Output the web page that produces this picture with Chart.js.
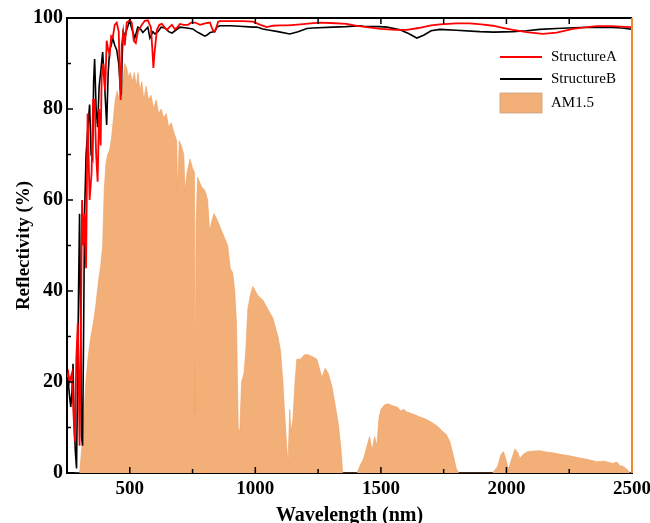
<!DOCTYPE html>
<html>
<head>
<meta charset="utf-8">
<script src="https://cdn.jsdelivr.net/npm/chart.js@4.4.1/dist/chart.umd.min.js"></script>
<style>
  html, body { margin: 0; padding: 0; background: #fff; }
  #wrap { width: 650px; height: 523px; position: relative; }
</style>
</head>
<body>
<div id="wrap"><canvas id="reflChart" width="650" height="523"></canvas></div>
<script>
// AM1.5 solar spectrum (scaled to the reflectivity axis)
const amNm = [280, 300, 305, 315, 325, 335, 345, 355, 365, 375, 385, 392, 398, 405, 412, 420, 428, 435, 442, 450,
  458, 465, 472, 480, 488, 495, 502, 510, 518, 526, 533, 540, 548, 556, 565, 575, 585, 595, 605, 615,
  625, 635, 645, 655, 665, 675, 687, 690, 697, 705, 715, 720, 728, 740, 750, 758, 760, 764, 770, 785,
  800, 810, 818, 825, 835, 845, 860, 875, 890, 900, 910, 918, 925, 932, 938, 945, 955, 962, 970, 980,
  990, 1000, 1010, 1030, 1050, 1070, 1090, 1100, 1110, 1118, 1125, 1130, 1137, 1142, 1150, 1158, 1165, 1180, 1195, 1210,
  1230, 1245, 1255, 1265, 1278, 1290, 1305, 1318, 1330, 1340, 1348, 1405, 1420, 1430, 1445, 1455, 1465, 1475, 1484, 1492,
  1500, 1515, 1530, 1545, 1565, 1580, 1590, 1604, 1625, 1656, 1680, 1700, 1725, 1748, 1760, 1775, 1790, 1800, 1810, 1945,
  1965, 1978, 1988, 1998, 2008, 2020, 2034, 2045, 2054, 2065, 2081, 2100, 2133, 2160, 2190, 2213, 2250, 2293, 2320, 2360,
  2390, 2424, 2440, 2452, 2464, 2480, 2492, 2500];
const amVal = [0, 0, 3, 10, 20, 26, 30, 33, 37, 42, 46, 50, 62, 68, 70, 71, 74, 78, 82, 84,
  82, 87, 86, 90, 89, 87, 88, 86, 88, 85, 88, 84, 86, 82, 85, 82, 83, 80, 82, 79,
  80, 78, 79, 76, 77, 75, 73, 62, 73, 72, 70, 62, 66, 69, 67, 66, 13, 55, 65, 63,
  62, 60, 53, 55, 57, 56, 54, 52, 50, 45, 44, 40, 33, 10, 9, 20, 22, 27, 36, 39,
  41, 40, 39, 38, 36, 34, 30, 27, 20, 12, 6, 2, 14, 9, 12, 20, 25, 25, 26, 26,
  25.5, 25, 23, 21, 23, 22, 19, 15, 11, 6, 0, 0, 2, 3, 6, 8, 5, 8, 6, 12,
  14, 15, 15.2, 14.8, 14.5, 13.6, 14, 13.4, 13, 12.3, 11.8, 11.2, 10.3, 9, 8.5, 6.8, 3.5, 1, 0, 0,
  1.5, 4, 4.7, 3, 0.8, 3, 5.3, 4.5, 3.2, 4, 4.6, 4.8, 4.9, 4.6, 4.4, 4.1, 3.8, 3.3, 3, 2.5,
  2.6, 2.1, 2.4, 1.6, 1.5, 0.8, 0, 0];

// StructureA reflectivity (%)
const aNm = [250, 255, 260, 265, 270, 275, 281, 287, 293, 297, 300, 305, 310, 315, 320, 326, 332, 340, 348, 354,
  360, 366, 372, 378, 384, 388, 395, 402, 408, 414, 420, 426, 432, 440, 448, 456, 461, 464, 468, 474,
  480, 488, 500, 508, 516, 524, 532, 548, 560, 572, 584, 590, 594, 598, 608, 618, 628, 638, 648, 658,
  668, 680, 690, 700, 715, 732, 745, 760, 780, 800, 819, 826, 831, 838, 845, 852, 859, 900, 950, 990,
  1020, 1046, 1070, 1098, 1130, 1180, 1220, 1257, 1300, 1363, 1400, 1443, 1500, 1560, 1604, 1650, 1700, 1735, 1800, 1854,
  1900, 1946, 1990, 2026, 2080, 2145, 2200, 2265, 2320, 2359, 2420, 2491, 2500];
const aVal = [21, 22, 20, 21, 22, 14, 7, 25, 33, 20, 6, 30, 60, 50, 57, 45, 79, 60, 66, 82,
  82, 70, 64, 80, 72, 87, 90, 84, 95, 93, 92, 96, 95.6, 98.5, 99, 97, 85, 82, 94, 97,
  94, 99, 99.5, 99, 95, 94.5, 97, 98.5, 99.4, 99.5, 98, 93, 89, 92, 97.4, 98.5, 98.7, 98, 97.4, 98,
  98.5, 97.5, 98, 98.7, 98.5, 98.5, 99, 99, 98.5, 98.8, 99, 98, 97.3, 97, 98, 99.2, 99.3, 99.3, 99.3, 99.2,
  98.5, 98, 98.3, 98.4, 98.4, 98.6, 98.8, 99, 98.9, 98.7, 98.3, 98, 97.6, 97.4, 97.4, 97.8, 98.4, 98.6, 98.8, 98.8,
  98.6, 98.3, 97.8, 97.4, 96.9, 96.5, 96.8, 97.6, 98, 98.2, 98.2, 98, 98];

// StructureB reflectivity (%)
const bNm = [250, 255, 260, 265, 270, 274, 278, 283, 288, 292, 296, 300, 304, 308, 312, 316, 320, 326, 332, 340,
  346, 352, 356, 360, 366, 372, 378, 384, 392, 400, 408, 414, 420, 426, 432, 440, 448, 456, 462, 466,
  470, 474, 482, 488, 500, 506, 512, 520, 532, 540, 552, 572, 580, 592, 600, 612, 625, 640, 655, 668,
  680, 700, 728, 751, 766, 780, 799, 806, 820, 839, 847, 859, 900, 938, 990, 1006, 1030, 1046, 1090, 1137,
  1170, 1205, 1229, 1309, 1360, 1417, 1430, 1496, 1524, 1576, 1610, 1643, 1670, 1700, 1735, 1800, 1893, 1950, 2026, 2080,
  2133, 2200, 2293, 2400, 2460, 2491, 2500];
const bVal = [22, 20, 17, 14.5, 18, 24, 12, 5, 1, 20, 40, 57, 35, 8, 6, 30, 57, 70, 75, 81,
  70, 69, 86, 91, 80, 76, 85, 88, 92.5, 85, 76.5, 88, 93, 94, 95.6, 94, 93, 90, 85, 83,
  92, 97, 96, 97.5, 99.5, 98, 97, 95.6, 98, 97.8, 96.8, 98, 95.6, 97, 96.5, 97, 98, 97.8, 97, 96.7,
  97.2, 98, 97.8, 97.6, 97, 96.6, 96, 96.2, 96.8, 97, 98, 98.3, 98.3, 98.2, 98, 98, 97.6, 97.4, 97, 96.5,
  97, 97.7, 97.8, 98, 98.1, 98.3, 98.2, 98.1, 98, 97.4, 96.6, 95.6, 96.2, 97.2, 97.5, 97.3, 97, 96.9, 97, 97.2,
  97.5, 97.7, 97.9, 98, 97.8, 97.6, 97.5];

const xTicks = [500, 1000, 1500, 2000, 2500];
const xMinor = [750, 1250, 1750, 2250];
const yTicks = [0, 20, 40, 60, 80, 100];
const yMinor = [10, 30, 50, 70, 90];

const serif = "'Liberation Serif', 'Times New Roman', serif";

function toPoints(xs, ys) {
    return xs.map((x, i) => ({ x: x, y: ys[i] }));
}

// frame, inward ticks and legend
const framePlugin = {
    id: 'frame',
    afterDraw(chart) {
        const ctx = chart.ctx;
        const xs = chart.scales.x, ys = chart.scales.y;
        const a = chart.chartArea;
        ctx.save();
        ctx.strokeStyle = '#000';
        ctx.lineWidth = 2;
        ctx.beginPath();
        ctx.moveTo(a.left - 1, a.top);
        ctx.lineTo(a.right, a.top);
        ctx.stroke();

        ctx.lineWidth = 1.5;
        ctx.beginPath();
        xTicks.forEach(v => {
            const px = xs.getPixelForValue(v);
            ctx.moveTo(px, a.bottom); ctx.lineTo(px, a.bottom - 6);
            ctx.moveTo(px, a.top); ctx.lineTo(px, a.top + 6);
        });
        xMinor.forEach(v => {
            const px = xs.getPixelForValue(v);
            ctx.moveTo(px, a.bottom); ctx.lineTo(px, a.bottom - 4);
            ctx.moveTo(px, a.top); ctx.lineTo(px, a.top + 6);
        });
        yTicks.forEach(v => {
            const py = ys.getPixelForValue(v);
            ctx.moveTo(a.left, py); ctx.lineTo(a.left + 6, py);
        });
        yMinor.forEach(v => {
            const py = ys.getPixelForValue(v);
            ctx.moveTo(a.left, py); ctx.lineTo(a.left + 4, py);
        });
        ctx.stroke();

        // right edge is orange
        ctx.strokeStyle = '#F08A30';
        ctx.lineWidth = 2;
        ctx.beginPath();
        ctx.moveTo(a.right, a.top);
        ctx.lineTo(a.right, a.bottom);
        ctx.stroke();

        // legend
        const lx = 500, lw = 42, tx = 551;
        const rows = [
            { label: 'StructureA', color: '#FF0000', y: 57 },
            { label: 'StructureB', color: '#000000', y: 79 }
        ];
        ctx.font = '15px ' + serif;
        ctx.textBaseline = 'middle';
        ctx.fillStyle = '#000';
        rows.forEach(r => {
            ctx.strokeStyle = r.color;
            ctx.lineWidth = 2;
            ctx.beginPath();
            ctx.moveTo(lx, r.y); ctx.lineTo(lx + lw, r.y);
            ctx.stroke();
            ctx.fillText(r.label, tx, r.y);
        });
        ctx.fillStyle = '#F3AF78';
        ctx.fillRect(lx, 93, lw, 20);
        ctx.strokeStyle = '#C8A080';
        ctx.lineWidth = 0.8;
        ctx.strokeRect(lx, 93, lw, 20);
        ctx.fillStyle = '#000';
        ctx.fillText('AM1.5', tx, 103);
        ctx.restore();
    }
};

const ctx = document.getElementById('reflChart').getContext('2d');
const reflChart = new Chart(ctx, {
    type: 'line',
    data: {
        datasets: [
            { label: 'StructureA', data: toPoints(aNm, aVal), borderColor: '#FF0000', borderWidth: 1.8, pointRadius: 0, fill: false },
            { label: 'StructureB', data: toPoints(bNm, bVal), borderColor: '#000000', borderWidth: 1.6, pointRadius: 0, fill: false },
            { label: 'AM1.5', data: toPoints(amNm, amVal), borderColor: '#EFA062', borderWidth: 0.6, pointRadius: 0,
              backgroundColor: '#F3AF78', fill: 'origin' }
        ]
    },
    options: {
        responsive: false,
        animation: false,
        events: [],
        layout: { padding: { top: 18, right: 18, left: 0, bottom: 0 } },
        plugins: { legend: { display: false }, tooltip: { enabled: false } },
        scales: {
            x: {
                type: 'linear',
                min: 250,
                max: 2500,
                afterBuildTicks: s => { s.ticks = xTicks.map(v => ({ value: v })); },
                afterFit: s => { s.height = 50; s.paddingLeft = 0; s.paddingRight = 0; },
                grid: { display: false, drawTicks: false },
                border: { display: true, color: '#000', width: 2 },
                ticks: { color: '#000', padding: 5, maxRotation: 0, callback: v => String(v),
                         font: { family: serif, size: 19, weight: 'bold' } },
                title: { display: true, text: 'Wavelength (nm)', color: '#000', padding: { top: 0, bottom: -3 },
                         font: { family: serif, size: 20, weight: 'bold', lineHeight: 1 } }
            },
            y: {
                min: 0,
                max: 100,
                afterBuildTicks: s => { s.ticks = yTicks.map(v => ({ value: v })); },
                afterFit: s => { s.width = 67; s.paddingTop = 0; s.paddingBottom = 0; },
                grid: { display: false, drawTicks: false },
                border: { display: true, color: '#000', width: 2 },
                ticks: { color: '#000', padding: 4, font: { family: serif, size: 20, weight: 'bold' } },
                title: { display: true, text: 'Reflectivity (%)', color: '#000', padding: { top: 15, bottom: 0 },
                         font: { family: serif, size: 19, weight: 'bold', lineHeight: 1 } }
            }
        }
    },
    plugins: [framePlugin]
});
</script>
</body>
</html>
